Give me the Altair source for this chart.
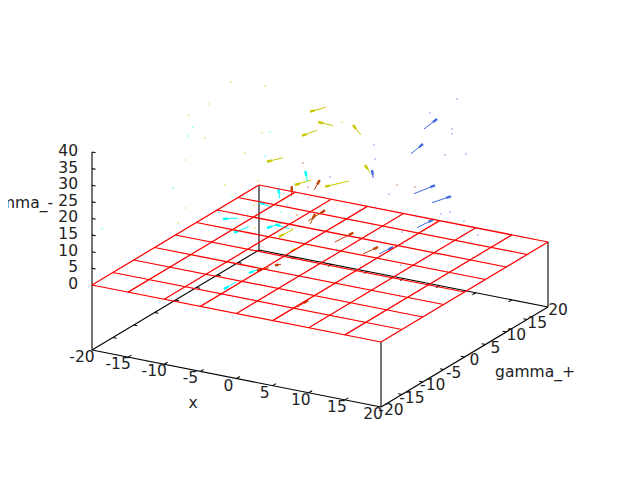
import altair as alt
import pandas as pd

# Axis values of the 3-D box
x_ticks = [-20, -15, -10, -5, 0, 5, 10, 15, 20]
y_ticks = [-20, -15, -10, -5, 0, 5, 10, 15, 20]
z_ticks = [0, 5, 10, 15, 20, 25, 30, 35, 40]
z_base = -19.55

# Vectors as read on the picture: tail x, tail y, head x, head y
yellow_arrows = [
    (325.7, 107.3, 310, 111.7), (333, 125.7, 318.3, 122), (317, 130.3, 302, 135.7),
    (361, 135, 353, 125), (283, 157.7, 267, 161.7), (370, 172.7, 365, 165),
    (311, 180, 295, 185), (349, 181, 325, 186.7), (293, 229.7, 279, 236.7),
    (306, 243.7, 291, 251.3),
]
blue_arrows = [
    (424, 129, 437, 119), (411, 153.7, 423, 144), (414, 193.7, 435, 185.3),
    (432, 202.7, 451, 196.3), (417, 227.7, 433, 219.7), (373.3, 178, 372, 170),
    (379, 254, 393, 247),
]
brown_arrows = [
    (314.3, 189.7, 319.7, 180), (291.7, 195.7, 291.7, 186.3), (310.3, 223.7, 315, 214),
    (308.3, 220.7, 325, 210.3), (335, 242, 353.3, 232.7), (363, 254, 378, 247),
    (269, 267.7, 257, 270.7), (281, 264.3, 275, 265.3), (297, 307.3, 308, 300.3),
]
cyan_arrows = [
    (307.3, 181, 305.3, 171), (279.7, 198.3, 278.3, 188.3), (272, 207.3, 259.3, 202.3),
    (238, 218, 223, 219), (249, 226.7, 234, 232.7), (281, 223.3, 267, 228),
    (289, 228.7, 275, 224.3), (262, 268, 249, 273), (236, 282, 224, 289),
]

# Very short vectors, seen as single dots
yellow_dots = [(231, 82), (265, 86), (209, 104), (189, 115), (342, 122), (262, 133), (205, 138),
               (245, 153), (186, 160), (258, 181), (225, 185), (186, 208), (254, 205), (292, 229),
               (255, 228), (178, 223)]
cyan_dots = [(193, 127), (188, 136), (270, 132), (265, 156), (232, 197), (219, 212), (281, 212),
             (270, 187), (173, 188), (102, 229)]
blue_dots = [(457, 99), (430, 113), (452, 129), (452, 134), (374, 145), (375, 159), (466, 154),
             (445, 155), (330, 177), (389, 194), (360, 210), (450, 212), (441, 214), (464, 221),
             (402, 232), (462, 236), (478, 235), (438, 254), (401, 265)]
brown_dots = [(303, 163), (308, 187), (397, 185), (415, 187), (297, 215), (263, 240), (435, 254)]

colors = {"yellow": "#c8c800", "blue": "#4169e1", "brown": "#c04000", "cyan": "#00ffff"}


def project(x, y, z):
    u, v = (x + 20) / 40, (y + 20) / 40
    return (92 + 289 * u + 167 * v, 350 + 57 * u - 100 * v - (z - z_base) * 3.325)


def seg(a, b):
    p, q = project(*a), project(*b)
    return {"x": p[0], "y": p[1], "x2": q[0], "y2": q[1]}


lo, hi = x_ticks[0], x_ticks[-1]
zt = z_ticks[-1]
black = [
    seg((lo, lo, z_base), (hi, lo, z_base)), seg((hi, lo, z_base), (hi, hi, z_base)),
    seg((hi, hi, z_base), (lo, hi, z_base)), seg((lo, hi, z_base), (lo, lo, z_base)),
    seg((lo, lo, z_base), (lo, lo, zt)), seg((hi, lo, z_base), (hi, lo, 0)),
    seg((hi, hi, z_base), (hi, hi, 0)), seg((lo, hi, z_base), (lo, hi, 0)),
]
for t in x_ticks[1:-1]:
    black += [seg((t, lo, z_base), (t, lo + 0.8, z_base)), seg((t, hi, z_base), (t, hi - 0.8, z_base))]
for t in y_ticks[1:-1]:
    black += [seg((lo, t, z_base), (lo + 0.5, t, z_base)), seg((hi, t, z_base), (hi - 0.5, t, z_base))]
for t in z_ticks:
    black.append(seg((lo, lo, t), (lo + 0.5, lo, t)))

red = []
for t in x_ticks:
    red.append(seg((t, lo, 0), (t, hi, 0)))
for t in y_ticks:
    red.append(seg((lo, t, 0), (hi, t, 0)))

shafts, heads, dots = [], [], []
for name, rows in [("yellow", yellow_arrows), ("blue", blue_arrows),
                   ("brown", brown_arrows), ("cyan", cyan_arrows)]:
    for tx, ty, hx, hy in rows:
        shafts.append({"x": tx, "y": ty, "x2": hx, "y2": hy, "series": name})
        dx, dy = tx - hx, ty - hy
        n = (dx * dx + dy * dy) ** 0.5
        k = min(5 / n, 0.6)
        heads.append({"x": hx, "y": hy, "x2": hx + dx * k, "y2": hy + dy * k, "series": name})
for name, rows in [("yellow", yellow_dots), ("blue", blue_dots),
                   ("brown", brown_dots), ("cyan", cyan_dots)]:
    for px, py in rows:
        dots.append({"x": px, "y": py, "series": name})

labels = []
for t in x_ticks:
    p = project(t, lo, z_base)
    labels.append({"x": p[0] - (10 if t < 0 else 8), "y": p[1] + 7, "text": str(t)})
for t in y_ticks:
    p = project(hi, t, z_base)
    labels.append({"x": p[0] + 10, "y": p[1] + 3, "text": str(t)})
side = [{"x": 193, "y": 403, "text": "x"}, {"x": 535, "y": 372, "text": "gamma_+"}]
z_labels = [{"x": 78, "y": project(lo, lo, t)[1] - 1, "text": str(t)} for t in z_ticks]
z_labels.append({"x": 53, "y": 203, "text": "gamma_-"})

sx = alt.Scale(domain=[8, 632], nice=False, zero=False)
sy = alt.Scale(domain=[472, 8], nice=False, zero=False)
X = alt.X("x:Q", scale=sx, axis=None)
Y = alt.Y("y:Q", scale=sy, axis=None)
color = alt.Color("series:N", legend=None,
                  scale=alt.Scale(domain=list(colors), range=list(colors.values())))


def rules(rows, **kw):
    return alt.Chart(pd.DataFrame(rows)).mark_rule(**kw).encode(
        x=X, y=Y, x2="x2:Q", y2="y2:Q")


text_kw = dict(font="DejaVu Sans", fontSize=15.5, color="#222222", baseline="middle")
layers = [
    rules(black, color="#000000", strokeWidth=1.1),
    rules(shafts, strokeWidth=1).encode(color=color),
    rules(heads, strokeWidth=2.4).encode(color=color),
    alt.Chart(pd.DataFrame(dots)).mark_square(size=1.5, opacity=1).encode(x=X, y=Y, color=color),
    rules(red, color="#ff0000", strokeWidth=1.25),
    alt.Chart(pd.DataFrame(labels + side)).mark_text(align="center", **text_kw).encode(x=X, y=Y, text="text:N"),
    alt.Chart(pd.DataFrame(z_labels)).mark_text(align="right", **text_kw).encode(x=X, y=Y, text="text:N"),
]

chart = alt.layer(*layers).properties(
    width=624, height=464, padding=0, autosize=alt.AutoSizeParams(type="none"), background="white"
).configure_view(stroke=None)

chart.save("out.html", embed_options={"renderer": "svg", "actions": False})
